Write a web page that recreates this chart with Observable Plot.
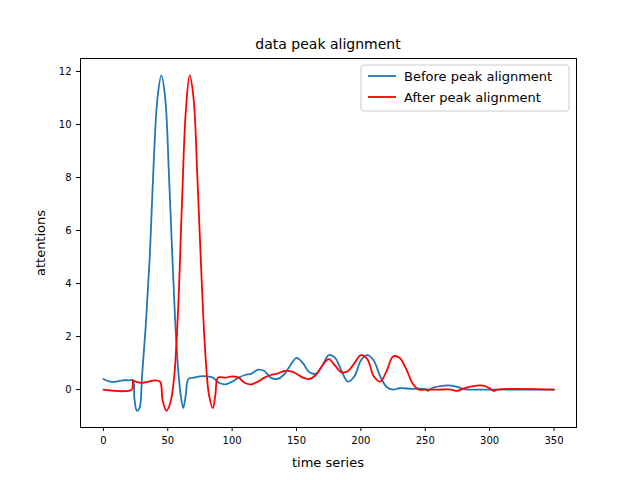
<!DOCTYPE html>
<html><head><meta charset="utf-8">
<script src="https://cdn.jsdelivr.net/npm/d3@7"></script>
<script src="https://cdn.jsdelivr.net/npm/@observablehq/plot@0.6"></script>
<style>body{margin:0;background:#fff}</style>
</head><body><div id="chart"></div>
<script>
const beforeX = [0,5,10,15,20,23,24,26,28,30,33,36,39,42,45,48,51,54,57,60,62,64,66,70,75,80,85,90,95,100,105,110,115,120,125,130,135,140,145,150,155,160,165,170,175,180,185,190,195,200,205,210,215,220,225,230,240,250,252,255,265,270,275,280,290,300,350]
const beforeY = [0.4,0.3,0.3,0.35,0.35,0.35,-0.3,-0.8,-0.7,0.5,2.5,5,8.5,11,11.85,11,8,4.5,1.5,-0.2,-0.7,-0.2,0.4,0.45,0.5,0.5,0.45,0.25,0.2,0.3,0.45,0.55,0.6,0.75,0.7,0.45,0.4,0.55,0.9,1.2,1.0,0.65,0.6,0.9,1.3,1.2,0.7,0.3,0.5,1.1,1.3,1.1,0.5,0.1,0.0,0.05,0.03,0.02,-0.05,0.05,0.15,0.15,0.1,0.02,0.0,0.0,0.0]
const afterX = [0,22,23,25,30,35,40,44,46,49,52,55,58,61,64,67,70,73,76,79,82,85,87,89,95,100,105,110,115,120,125,130,135,140,145,150,155,160,165,170,175,180,185,190,195,200,205,210,215,220,225,230,235,240,245,250,260,270,275,280,290,295,300,303,306,350]
const afterY = [0,0,0.35,0.3,0.25,0.3,0.35,0.3,-0.4,-0.8,-0.5,0.5,3,7,10.5,11.85,11,8,4.5,1.5,-0.2,-0.7,-0.2,0.45,0.45,0.5,0.45,0.25,0.2,0.3,0.45,0.55,0.6,0.7,0.7,0.6,0.45,0.4,0.55,0.9,1.15,0.9,0.65,0.7,1.0,1.3,1.15,0.5,0.3,0.7,1.25,1.2,0.8,0.25,0.0,0.0,0.0,0.0,-0.05,0.05,0.15,0.15,0.05,-0.05,0.0,0.0]
const xTicks = [0,50,100,150,200,250,300,350]
const yTicks = [0,2,4,6,8,10,12]

const before = beforeX.map((x, i) => ({x, y: beforeY[i]}))
const after = afterX.map((x, i) => ({x, y: afterY[i]}))

const chart = Plot.plot({
  width: 640, height: 480,
  marginLeft: 80, marginRight: 64, marginTop: 58, marginBottom: 53,
  style: {fontFamily: "DejaVu Sans", fontSize: "10px", color: "#000"},
  x: {domain: [-17.8, 367.5]},
  y: {domain: [-1.43, 12.49]},
  marks: [
    Plot.frame({stroke: "#000"}),
    Plot.axisX({ticks: xTicks, tickSize: 4, label: null}),
    Plot.axisY({ticks: yTicks, tickSize: 4, label: null}),
    Plot.line(before, {x: "x", y: "y", stroke: "#1f77b4", strokeWidth: 1.8, curve: "catmull-rom"}),
    Plot.line(after, {x: "x", y: "y", stroke: "red", strokeWidth: 1.8, curve: "catmull-rom"})
  ]
})

const svg = d3.select(chart)
const txt = (x, y, s, size, anchor = "middle") => svg.append("text").attr("x", x).attr("y", y)
  .attr("text-anchor", anchor).attr("font-size", size).attr("font-family", "DejaVu Sans").attr("fill", "#000").text(s)
txt(328, 49, "data peak alignment", 14)
txt(328, 467, "time series", 13)
txt(0, 0, "attentions", 13).attr("transform", "translate(45,243) rotate(-90)")
const lg = svg.append("g")
lg.append("rect").attr("x", 361).attr("y", 65).attr("width", 208).attr("height", 46)
  .attr("rx", 3).attr("fill", "#fff").attr("stroke", "#ccc")
const items = [["Before peak alignment", "#1f77b4"], ["After peak alignment", "red"]]
items.forEach(([t, c], i) => {
  const y = 76 + i * 21
  lg.append("line").attr("x1", 368).attr("x2", 396).attr("y1", y).attr("y2", y).attr("stroke", c).attr("stroke-width", 1.8)
  txt(404, y + 4.5, t, 13, "start")
})
d3.select("#chart").append(() => chart)
</script></body></html>
